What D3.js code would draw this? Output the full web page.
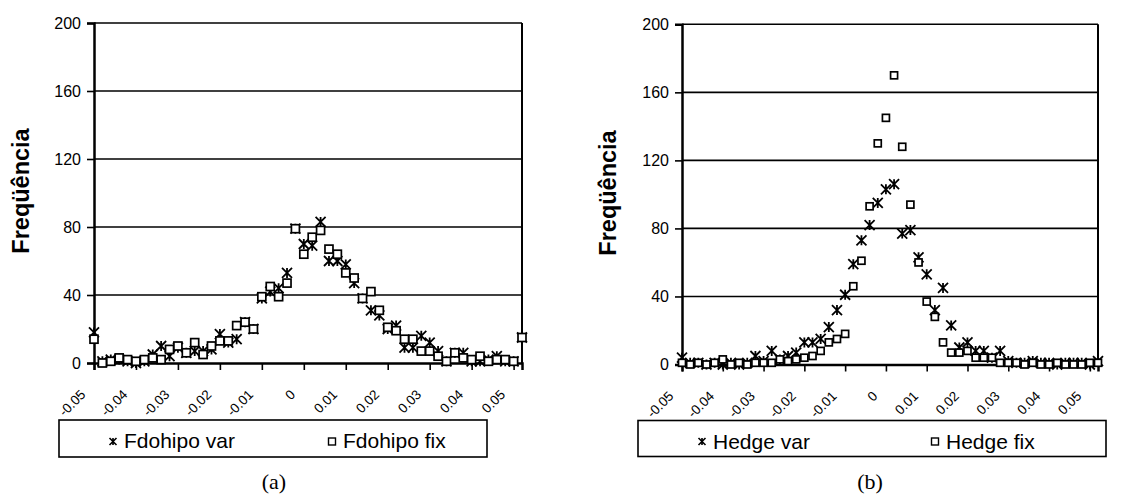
<!DOCTYPE html>
<html>
<head>
<meta charset="utf-8">
<script src="https://cdn.jsdelivr.net/npm/d3@7"></script>
<style>
  html, body { margin: 0; padding: 0; background: #fff; }
  svg { display: block; }
</style>
</head>
<body>
<svg id="fig" width="1123" height="495"></svg>
<script>
// Return bins (class centres) shared by both histograms
const bins = [-0.050,-0.048,-0.046,-0.044,-0.042,-0.040,-0.038,-0.036,-0.034,-0.032,
  -0.030,-0.028,-0.026,-0.024,-0.022,-0.020,-0.018,-0.016,-0.014,-0.012,
  -0.010,-0.008,-0.006,-0.004,-0.002,0.000,0.002,0.004,0.006,0.008,
  0.010,0.012,0.014,0.016,0.018,0.020,0.022,0.024,0.026,0.028,
  0.030,0.032,0.034,0.036,0.038,0.040,0.042,0.044,0.046,0.048,
  0.050,0.052];

// (a) Fdohipo frequencies
const fdohipoVar = [18,1,2,2,1,0,1,5,10,4,9,6,7,7,8,17,12,14,24,20,38,42,44,53,79,70,69,83,60,60,58,47,38,31,28,20,22,9,9,16,12,7,1,6,6,1,1,2,4,1,1,15];
const fdohipoFix = [14,0,1,3,2,1,2,3,2,8,10,6,12,5,10,13,13,22,24,20,39,45,39,47,79,64,74,78,67,64,53,50,38,42,31,21,19,14,14,7,7,4,1,6,3,2,4,1,2,2,1,15];

// (b) Hedge frequencies
const hedgeVar = [4,1,1,0,1,0,1,0,1,5,2,8,3,5,7,13,13,15,22,32,41,59,73,82,95,103,106,77,79,63,53,32,45,23,10,13,8,8,4,8,2,1,1,2,1,1,0,1,1,1,0,2];
const hedgeFix = [1,0,1,0,1,3,0,1,0,1,1,1,3,2,3,4,5,8,13,15,18,46,61,93,130,145,170,128,94,60,37,28,13,7,7,8,4,4,4,1,1,1,0,1,0,0,1,0,0,0,1,1];

// Axis ticks and labels
const xTickLabels = ["-0.05","-0.04","-0.03","-0.02","-0.01","0","0.01","0.02","0.03","0.04","0.05"];
const yTicks = [0, 40, 80, 120, 160, 200];
const yTitle = "Freqüência";

const panels = [
  { names: ["Fdohipo var", "Fdohipo fix"], series: [fdohipoVar, fdohipoFix], caption: "(a)",
    plot: {x0: 94, x1: 522, y0: 23, y1: 363}, titleX: 29, titleY: 191,
    legend: {x0: 59, x1: 487, y0: 420, y1: 457}, legendItems: [113, 332],
    starSize: 10, squareSize: 8, captionX: 274 },
  { names: ["Hedge var", "Hedge fix"], series: [hedgeVar, hedgeFix], caption: "(b)",
    plot: {x0: 682, x1: 1098, y0: 24.3, y1: 364.5}, titleX: 616, titleY: 193,
    legend: {x0: 638, x1: 1106, y0: 420.5, y1: 456.5}, legendItems: [702, 935],
    starSize: 10, squareSize: 7, captionX: 870 }
];

const svg = d3.select("#fig");
const FONT = "'Liberation Sans', Arial, sans-serif";

function starPath(s) {
  const h = s / 2;
  return `M${-h},${-h}L${h},${h}M${-h},${h}L${h},${-h}M0,${-h}L0,${h}`;
}

panels.forEach(p => {
  const g = svg.append("g");
  const x = d3.scaleLinear().domain([bins[0], bins[bins.length - 1]]).range([p.plot.x0, p.plot.x1]);
  const y = d3.scaleLinear().domain([0, 200]).range([p.plot.y1, p.plot.y0]);

  // horizontal gridlines
  g.append("g").selectAll("line").data(yTicks.filter(d => d > 0)).join("line")
    .attr("x1", p.plot.x0).attr("x2", p.plot.x1)
    .attr("y1", d => y(d)).attr("y2", d => y(d))
    .attr("stroke", "#000").attr("stroke-width", 1.6);

  // right border of the plot area
  g.append("line").attr("x1", p.plot.x1).attr("x2", p.plot.x1)
    .attr("y1", p.plot.y0).attr("y2", p.plot.y1)
    .attr("stroke", "#000").attr("stroke-width", 2);

  // y axis
  const yAxis = d3.axisLeft(y).tickValues(yTicks).tickSize(7).tickPadding(6).tickFormat(d3.format("d"));
  const ya = g.append("g").attr("transform", `translate(${p.plot.x0},0)`).call(yAxis);
  ya.select(".domain").attr("stroke", "#000").attr("stroke-width", 2.5);
  ya.selectAll(".tick line").attr("stroke", "#000").attr("stroke-width", 1.6);
  ya.selectAll(".tick text").attr("font-family", FONT).attr("font-size", 16).attr("fill", "#000");

  // x axis
  const xTickVals = xTickLabels.map(Number);
  const xAxis = d3.axisBottom(x).tickValues(xTickVals).tickSize(7).tickFormat(() => "");
  const xa = g.append("g").attr("transform", `translate(0,${p.plot.y1})`).call(xAxis);
  xa.select(".domain").attr("stroke", "#000").attr("stroke-width", 2.5);
  xa.selectAll(".tick line").attr("stroke", "#000").attr("stroke-width", 1.6);

  g.append("g").selectAll("text").data(xTickLabels).join("text")
    .attr("transform", d => `translate(${x(+d) - 11},${p.plot.y1 + 29}) rotate(-45)`)
    .attr("text-anchor", "end").attr("dy", "0.35em")
    .attr("font-family", FONT).attr("font-size", 13.5).attr("fill", "#000")
    .text(d => d);

  // y axis title
  g.append("text").attr("transform", `translate(${p.titleX},${p.titleY}) rotate(-90)`)
    .attr("text-anchor", "middle").attr("font-family", FONT).attr("font-weight", "bold")
    .attr("font-size", 23.5).attr("fill", "#000").text(yTitle);

  // points: var series as stars, fix series as hollow squares
  const [varVals, fixVals] = p.series;
  g.append("g").selectAll("path").data(bins.map((b, i) => [b, varVals[i]])).join("path")
    .attr("transform", d => `translate(${x(d[0])},${y(d[1])})`)
    .attr("d", starPath(p.starSize)).attr("stroke", "#000").attr("stroke-width", 1.8).attr("fill", "none");
  g.append("g").selectAll("rect").data(bins.map((b, i) => [b, fixVals[i]])).join("rect")
    .attr("x", d => x(d[0]) - p.squareSize / 2).attr("y", d => y(d[1]) - p.squareSize / 2)
    .attr("width", p.squareSize).attr("height", p.squareSize)
    .attr("stroke", "#000").attr("stroke-width", 1.7).attr("fill", "#fff");

  // legend
  const L = p.legend;
  g.append("rect").attr("x", L.x0).attr("y", L.y0).attr("width", L.x1 - L.x0).attr("height", L.y1 - L.y0)
    .attr("fill", "#fff").attr("stroke", "#000").attr("stroke-width", 1.6);
  const cy = (L.y0 + L.y1) / 2 + 3;
  g.append("path").attr("transform", `translate(${p.legendItems[0]},${cy})`)
    .attr("d", starPath(7)).attr("stroke", "#000").attr("stroke-width", 1.6);
  g.append("rect").attr("x", p.legendItems[1] - 3.5).attr("y", cy - 3.5).attr("width", 7).attr("height", 7)
    .attr("fill", "#fff").attr("stroke", "#000").attr("stroke-width", 1.4);
  p.names.forEach((n, i) => {
    g.append("text").attr("x", p.legendItems[i] + 11).attr("y", L.y0 + 28)
      .attr("font-family", FONT).attr("font-size", 21).attr("fill", "#000").text(n);
  });

  // caption
  g.append("text").attr("x", p.captionX).attr("y", 489).attr("text-anchor", "middle")
    .attr("font-family", "'Liberation Serif', 'Times New Roman', serif").attr("font-size", 22)
    .attr("fill", "#000").text(p.caption);
});
</script>
</body>
</html>
